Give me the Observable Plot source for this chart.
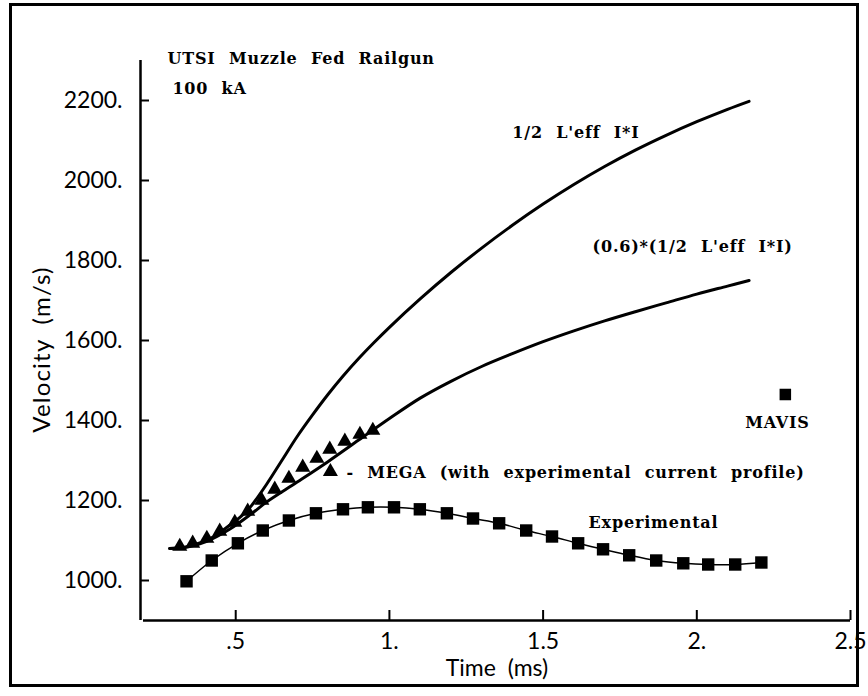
<!DOCTYPE html>
<html>
<head>
<meta charset="utf-8">
<script src="https://cdn.jsdelivr.net/npm/d3@7"></script>
<script src="https://cdn.jsdelivr.net/npm/@observablehq/plot@0.6"></script>
<style>
  body { margin: 0; background: #fff; }
  #wrap { position: relative; width: 868px; height: 696px; background: #fff; }
  #frame { position: absolute; left: 9px; top: 3px; width: 850px; height: 684px; border: 3px solid #000; box-sizing: border-box; pointer-events: none; }
  #chart { position: absolute; left: 0; top: 0; }
  g[font-family*="Serif"] text { word-spacing: 7px; letter-spacing: 0.8px; }
  g[font-size="24"] text { letter-spacing: 1.2px; }
</style>
</head>
<body>
<div id="wrap"><div id="chart"></div><div id="frame"></div></div>
<script>
// Experimental (squares)
const expTime = [0.340,0.422,0.507,0.588,0.673,0.761,0.849,0.930,1.015,1.099,1.187,1.272,1.357,1.445,1.529,1.614,1.695,1.780,1.868,1.956,2.037,2.125,2.210];
const expVel  = [998,1050,1093,1125,1150,1168,1178,1183,1183,1178,1168,1155,1143,1125,1110,1093,1078,1063,1050,1043,1040,1040,1045];

// MEGA (triangles)
const megaTime = [0.318,0.360,0.406,0.448,0.497,0.539,0.585,0.627,0.673,0.718,0.764,0.806,0.855,0.904,0.946];
const megaVel  = [1085,1093,1105,1123,1145,1173,1200,1228,1255,1283,1305,1328,1348,1365,1375];

// 1/2 L'eff I*I
const fullTime = [0.285,0.35,0.42,0.48,0.52,0.55,0.60,0.65,0.70,0.75,0.80,0.85,0.90,0.95,1.00,1.10,1.20,1.30,1.40,1.50,1.60,1.70,1.80,1.90,2.00,2.10,2.17];
const fullVel  = [1080,1086,1106,1138,1162,1186,1240,1300,1360,1414,1465,1512,1555,1595,1633,1704,1770,1831,1888,1941,1990,2035,2076,2113,2147,2178,2198];

// (0.6)*(1/2 L'eff I*I)
const scaledTime = [0.285,0.34,0.406,0.48,0.55,0.60,0.70,0.80,0.90,1.00,1.10,1.20,1.30,1.40,1.50,1.60,1.70,1.80,1.90,2.00,2.10,2.17];
const scaledVel  = [1080,1083,1098,1128,1166,1196,1246,1297,1351,1405,1456,1498,1535,1567,1597,1624,1649,1672,1694,1716,1736,1750];

// MAVIS
const mavisTime = [2.288];
const mavisVel  = [1465];

const yTicks = [1000,1200,1400,1600,1800,2000,2200];
const yTickLabels = ["1000.","1200.","1400.","1600.","1800.","2000.","2200."];
const xTicks = [0.5,1,1.5,2,2.5];
const xTickLabels = [".5","1.","1.5","2.","2.5"];

const titleLines = ["UTSI Muzzle Fed Railgun", "100 kA"];
const curveLabels = ["1/2 L'eff I*I", "(0.6)*(1/2 L'eff I*I)"];
const megaLabel = "- MEGA (with experimental current profile)";
const expLabel = "Experimental";
const mavisLabel = "MAVIS";
const xLabel = "Time  (ms)";
const yLabel = "Velocity  (m/s)";

const zip = (a, b) => a.map((t, i) => ({t, v: b[i]}));
const expData = zip(expTime, expVel);
const megaData = zip(megaTime, megaVel);
const fullData = zip(fullTime, fullVel);
const scaledData = zip(scaledTime, scaledVel);
const mavisData = zip(mavisTime, mavisVel);

const sans = "Lato, 'DejaVu Sans', sans-serif";
const serif = "'DejaVu Serif', serif";
const annot = {fontFamily: serif, fontWeight: "bold", fontSize: 16};

const chart = Plot.plot({
  width: 868,
  height: 696,
  marginLeft: 143,
  marginRight: 18,
  marginTop: 60,
  marginBottom: 76,
  x: {domain: [0.2, 2.5], axis: null},
  y: {domain: [900, 2300], axis: null},
  style: {background: "transparent", color: "#000", overflow: "visible"},
  marks: [
    Plot.ruleX([0.2], {y1: 900, y2: 2300, strokeWidth: 2.5, dx: -3}),
    Plot.ruleY([900], {x1: 0.2, x2: 2.5, strokeWidth: 2.5}),
    Plot.tickY(yTicks, {y: d => d, insetRight: 698, strokeWidth: 2, dx: -3}),
    Plot.tickX(xTicks, {x: d => d, insetTop: 550, strokeWidth: 2}),
    Plot.text(yTicks, {y: d => d, text: (d, i) => yTickLabels[i], frameAnchor: "left", textAnchor: "end", dx: -21, fontFamily: sans, fontSize: 23}),
    Plot.text(xTicks, {x: d => d, text: (d, i) => xTickLabels[i], frameAnchor: "bottom", dy: 28, fontFamily: sans, fontSize: 23}),
    Plot.text([xLabel], {text: d => d, frameAnchor: "bottom", textAnchor: "middle", dy: 55, fontFamily: sans, fontSize: 23}),
    Plot.text([yLabel], {text: d => d, frameAnchor: "left", textAnchor: "middle", rotate: -90, dx: -101, dy: 9, fontFamily: sans, fontSize: 24}),
    Plot.line(fullData, {x: "t", y: "v", curve: "catmull-rom", strokeWidth: 3}),
    Plot.line(scaledData, {x: "t", y: "v", curve: "catmull-rom", strokeWidth: 3}),
    Plot.line(expData, {x: "t", y: "v", curve: "catmull-rom", strokeWidth: 1.5}),
    Plot.dot(megaData, {x: "t", y: "v", symbol: "triangle", r: 5.6, fill: "#000"}),
    Plot.dot(expData, {x: "t", y: "v", symbol: "square", r: 7, fill: "#000"}),
    Plot.dot(mavisData, {x: "t", y: "v", symbol: "square", r: 6.5, fill: "#000"}),
    Plot.dot([0], {x: () => 0.808, y: () => 1272, symbol: "triangle", r: 5.6, fill: "#000"}),
    Plot.text([titleLines[0]], {x: () => 0.278, y: () => 2305, text: d => d, textAnchor: "start", ...annot}),
    Plot.text([titleLines[1]], {x: () => 0.294, y: () => 2230, text: d => d, textAnchor: "start", ...annot}),
    Plot.text([curveLabels[0]], {x: () => 1.400, y: () => 2120, text: d => d, textAnchor: "start", ...annot}),
    Plot.text([curveLabels[1]], {x: () => 1.661, y: () => 1833, text: d => d, textAnchor: "start", ...annot}),
    Plot.text([megaLabel], {x: () => 0.860, y: () => 1270, text: d => d, textAnchor: "start", ...annot}),
    Plot.text([expLabel], {x: () => 1.648, y: () => 1145, text: d => d, textAnchor: "start", ...annot}),
    Plot.text([mavisLabel], {x: () => 2.262, y: () => 1395, text: d => d, ...annot})
  ]
});
document.getElementById("chart").appendChild(chart);
</script>
</body>
</html>
